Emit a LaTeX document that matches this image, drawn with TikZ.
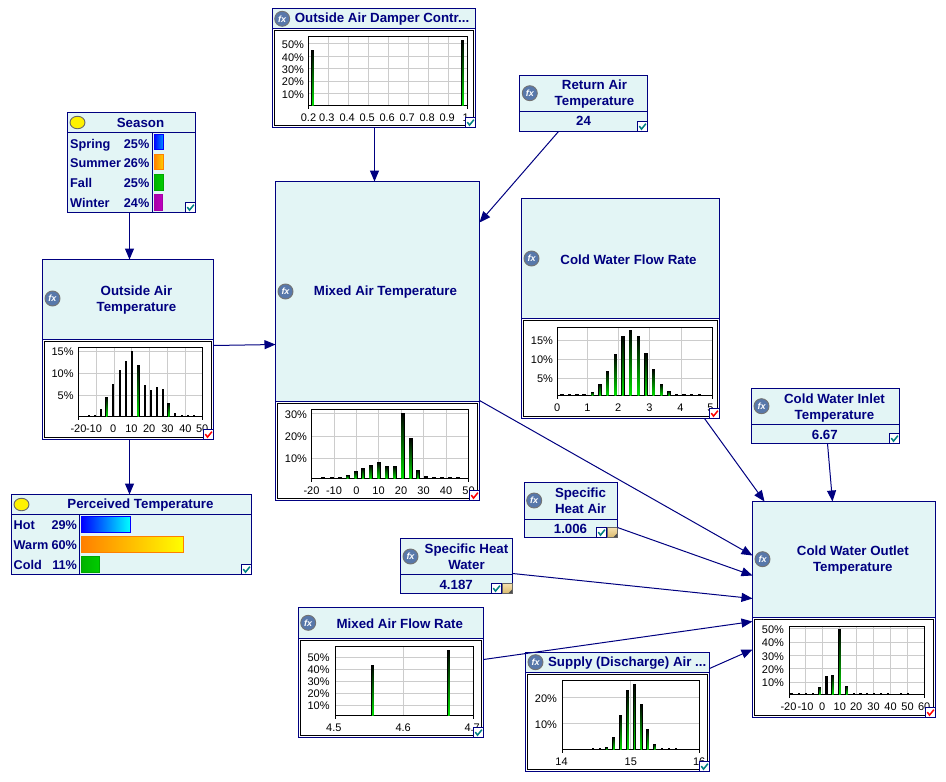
\documentclass[tikz,border=0pt]{standalone}
\usepackage{fontspec}
\setmainfont{Liberation Sans}
\usetikzlibrary{arrows.meta, calc, shapes.geometric}
\definecolor{bnnavy}{RGB}{0,0,128}
\definecolor{bnfill}{RGB}{227,245,245}
\definecolor{bngrid}{RGB}{204,204,204}
\definecolor{bnteal}{RGB}{0,128,128}
\definecolor{fxblue}{RGB}{88,120,170}
\definecolor{barhi}{RGB}{0,225,0}
\definecolor{notetan}{RGB}{240,205,120}
\tikzset{
    bnbox/.style = {draw = bnnavy, fill = bnfill, line width = 1pt, inner sep = 0pt, outer sep = 0pt},
    bnline/.style = {draw = bnnavy, line width = 1pt},
    bntitle/.style = {text = bnnavy, align = center, inner sep = 0pt, font = \fontsize{13.3}{16}\selectfont\bfseries},
    staterow/.style = {bntitle, text height = 9pt, text depth = 0pt, font = \fontsize{12.7}{16}\selectfont\bfseries},
    ticklab/.style = {text = black, inner sep = 0pt, font = \fontsize{11}{13}\selectfont},
    gridline/.style = {draw = bngrid, line width = 1pt},
    plotframe/.style = {draw = black, line width = 1pt},
    link/.style = {draw = bnnavy, line width = 1pt, -{Triangle[length = 11pt, width = 9pt]}},
    fxicon/.style = {circle, draw = black!55, fill = fxblue, line width = 0.9pt, minimum size = 15pt, inner sep = 0pt,
        text = white, font = \fontsize{9}{9}\selectfont\bfseries\itshape},
    chanceicon/.style = {ellipse, draw = black!60, fill = yellow, line width = 0.9pt, minimum width = 15pt, minimum height = 12.5pt, inner sep = 0pt},
    markbox/.style = {draw = bnnavy, fill = white, line width = 1pt, minimum size = 10pt, inner sep = 0pt},
    notebox/.style = {draw = black!60, top color = notetan!60, bottom color = notetan!90!black, line width = 0.6pt, minimum size = 10pt, inner sep = 0pt},
    barshade/.style = {top color = black, bottom color = barhi},
    bluebar/.style = {draw = blue, line width = 0.9pt, left color = blue},
    orangebar/.style = {draw = orange, line width = 0.9pt, left color = orange},
    greenbar/.style = {draw = green!65!black, line width = 0.9pt, left color = green!70!black, right color = green!80!black},
    purplebar/.style = {draw = violet!70!magenta, line width = 0.9pt, left color = violet!70!magenta, right color = violet!50!magenta}
}
\newcommand{\netbox}[6]{
    \node[bnbox, minimum width = {#4-#2}, minimum height = {#5-#3}] (#1) at ({(#2+#4)/2},{(#3+#5)/2}) {};
    \draw[bnline] (#2,#6) -- (#4,#6);
}
\newcommand{\chartpanel}[4]{
    \fill[white] (#1+0.5,#2) rectangle (#3-0.5,#4-0.5);
    \draw[bnline] (#1,#2) -- (#3,#2);
    \draw[plotframe] (#1+2,#2+2) rectangle (#3-2,#4-2);
}
\newcommand{\chartgrid}[6]{
    \foreach \y in {#6} \draw[gridline] (#1,\y) -- (#3,\y);
    \foreach \x in {#5} \draw[gridline] (\x,#2) -- (\x,#4);
    \draw[plotframe] (#1,#2) rectangle (#3,#4);
    \draw[plotframe] (#1,#4) -- (#1,#4+3.5);
    \draw[plotframe] (#3,#4) -- (#3,#4+3.5);
}
\newcommand{\histbars}[4]{
    \foreach \x/\yt in {#4} {
        \fill[black] (\x-#2,\yt) rectangle (\x+#2,#1);
        \shade[barshade] (\x-#3,\yt+0.5) rectangle (\x+#3,#1);
    }
}
\newcommand{\blackbars}[3]{
    \foreach \x/\yt in {#3} \fill[black] (\x-#2,\yt) rectangle (\x+#2,#1);
}
\newcommand{\xticks}[3]{
    \foreach \x/\lab [count=\n] in {#3} \node[ticklab] (#1x\n) at (\x,#2) {\lab};
}
\newcommand{\yticks}[3]{
    \foreach \y/\lab [count=\n] in {#3} \node[ticklab, anchor = east] (#1y\n) at (#2,\y) {\lab\%};
}
\newcommand{\okbox}[4]{
    \node[markbox] (#1) at (#2,#3) {};
    \draw[draw = #4, line width = 1.5pt] (#2-3.2,#3-0.4) -- (#2-1,#3+2.6) -- (#2+3.4,#3-2.8);
}
\newcommand{\memo}[3]{
    \node[notebox] (#1) at (#2,#3) {};
    \fill[black!70] (#2+1,#3+4.6) -- (#2+4.6,#3+1) -- (#2+4.6,#3+4.6) -- cycle;
}
\begin{document}
\begin{tikzpicture}[x = 1pt, y = -1pt]
        \useasboundingbox (-0.5,-0.5) rectangle (945.5,781.5);

        \netbox{season}{67}{112}{195}{212}{132}
        \draw[bnline] (152,132) -- (152,212);
        \node[chanceicon] (seasonicon) at (77,122) {};
        \node[bntitle] (seasontitle) at (140,122) {Season};
        \foreach \y/\lab/\val [count=\n] in {143/Spring/25, 162.5/Summer/26, 182.5/Fall/25, 202/Winter/24} {
            \node[staterow, anchor = west] (seasonlab\n) at (69.5,\y) {\lab};
            \node[staterow, anchor = east] (seasonval\n) at (149,\y) {\val\%};
        }
        \path[bluebar, right color = blue!45!cyan] (153.5,134.3) rectangle (162.5,149.3);
        \path[orangebar, right color = orange!40!yellow] (153.5,154.3) rectangle (162.5,169.3);
        \path[greenbar] (153.5,174.3) rectangle (162.5,189.5);
        \path[purplebar] (153.5,194.3) rectangle (161.7,209.5);
        \okbox{seasonok}{190}{207}{bnteal}

        \netbox{oat}{42}{259}{213}{439}{339}
        \chartpanel{42}{339}{213}{439}
        \node[fxicon] (oaticon) at (52,298) {fx};
        \node[bntitle] (oattitle) at (136,300) {Outside Air\\Temperature};
        \chartgrid{78}{347}{202}{416}{96,114,131,149,167,185}{351,373,395}
        \blackbars{416}{1}{88/414,94/414,100/408.3,112.7/383.3,119/369.3,125/360,131.3/350,144/384,150/389,156.3/386,162/388,174.7/412,181/414,187/414,193/414}
        \histbars{416}{1.5}{0.6}{106.3/396,137.7/364,168.3/402}
        \xticks{oat}{428}{78/-20,93.5/-10,112.7/0,131/10,148.7/20,167/30,185/40,201.7/50}
        \yticks{oat}{73.3}{351/15,373.3/10,395.3/5}
        \okbox{oatok}{208}{434}{red}

        \netbox{pt}{11}{494}{251}{574}{514}
        \draw[bnline] (79,514) -- (79,574);
        \node[chanceicon] (pticon) at (21,504) {};
        \node[bntitle] (pttitle) at (140,505) {Perceived Temperature};
        \foreach \y/\lab/\val [count=\n] in {524/Hot/29, 544/Warm/60, 564/Cold/11} {
            \node[staterow, anchor = west] (ptlab\n) at (13,\y) {\lab};
            \node[staterow, anchor = east] (ptval\n) at (76.7,\y) {\val\%};
        }
        \path[bluebar, right color = cyan] (81,516) rectangle (129.7,531.5);
        \path[orangebar, right color = yellow] (81,536) rectangle (182.7,551.5);
        \path[greenbar] (81,556.3) rectangle (98.7,571.5);
        \okbox{ptok}{246}{569}{bnteal}

        \netbox{damper}{272}{8}{475}{127}{28}
        \chartpanel{272}{28}{475}{127}
        \node[fxicon] (dampericon) at (281.7,18.3) {fx};
        \node[bntitle] (dampertitle) at (381.5,19) {Outside Air Damper Contr...};
        \chartgrid{308}{36}{467}{105}{328,348,368,388,408,428,448}{43,56,68,81,93}
        \histbars{105}{1.6}{0.7}{312.3/49,462.3/39}
        \xticks{damper}{117.3}{308/0.2,326.3/0.3,346.7/0.4,366.7/0.5,386.7/0.6,406.7/0.7,426.7/0.8,446.7/0.9,465.3/1}
        \yticks{damper}{303.7}{44/50,57/40,69.3/30,81.7/20,94.3/10}
        \okbox{damperok}{470}{122}{bnteal}

        \netbox{ret}{519}{75}{647}{131}{111}
        \node[fxicon] (reticon) at (529.3,92.7) {fx};
        \node[bntitle] (rettitle) at (594,94) {Return Air\\Temperature};
        \node[bntitle] (retval) at (583,120.7) {24};
        \okbox{retok}{642}{126}{bnteal}

        \netbox{mat}{275}{181}{479}{500}{401}
        \chartpanel{275}{401}{479}{500}
        \node[fxicon] (maticon) at (285,291) {fx};
        \node[bntitle] (mattitle) at (385,292) {Mixed Air Temperature};
        \chartgrid{311}{409}{468}{478}{334,356,378,401,423,446}{413,436,458}
        \blackbars{478}{2}{322.7/476,331/476,339/476,425/475.5,433/476,441/476,449/476,457/476}
        \histbars{478}{2}{1}{347/474,355/470.3,362.7/467.3,370/464.3,378/461.3,386/465.3,394/465.3,402/412,410/437.3,417.3/469.3}
        \xticks{mat}{490}{311/-20,333.5/-10,356/0,378/10,400.5/20,423/30,445.5/40,468/50}
        \yticks{mat}{306.7}{414/30,436/20,458.5/10}
        \okbox{matok}{474}{495}{red}

        \netbox{flow}{521}{198}{719}{418}{318}
        \chartpanel{521}{318}{719}{418}
        \node[fxicon] (flowicon) at (531,258) {fx};
        \node[bntitle] (flowtitle) at (628,259) {Cold Water Flow Rate};
        \chartgrid{557}{327}{712}{395}{587,618,649,681}{340,359,378}
        \blackbars{395}{1.8}{561.7/393,569/393,576.7/393,583.7/393,676/393,683.7/393,691/393,699/393}
        \histbars{395}{1.8}{0.9}{592/391,599.7/383,607/370,615/353.3,622.3/335,630/329,638/335,645.7/352.3,653/368.3,661/383,668.7/390}
        \xticks{flow}{407}{556.7/0,587/1,617.7/2,649/3,680/4,710/5}
        \yticks{flow}{552.7}{340/15,359/10,378/5}
        \okbox{flowok}{714}{413}{red}

        \netbox{inlet}{751}{388}{899}{443}{424}
        \node[fxicon] (inleticon) at (761,405.7) {fx};
        \node[bntitle] (inlettitle) at (834,407.5) {Cold Water Inlet\\Temperature};
        \node[bntitle] (inletval) at (824.3,434) {6.67};
        \okbox{inletok}{894}{438}{bnteal}

        \netbox{outlet}{752}{501}{935}{717}{617}
        \chartpanel{752}{617}{935}{717}
        \node[fxicon] (outleticon) at (762,558.7) {fx};
        \node[bntitle] (outlettitle) at (852.3,560) {Cold Water Outlet\\Temperature};
        \chartgrid{789}{626}{924}{694}{805,822,839,856,873,890,907}{628,642,655,668,682}
        \blackbars{694}{1.2}{791/692,798.3/692,805.7/692,812.3/692,826/675,853.3/692,860/692,866.3/692,873.3/692,880.3/692,887.3/692,900.3/692,907.3/692}
        \histbars{694}{1.5}{0.7}{819.3/686,832.3/674,839.3/628.3,846.3/685}
        \xticks{outlet}{706}{788/-20,805/-10,821.7/0,839.3/10,855.7/20,873/30,890/40,907/50,923.7/60}
        \yticks{outlet}{783.7}{629.3/50,642.3/40,656/30,669/20,682.3/10}
        \okbox{outletok}{930}{712}{red}

        \netbox{sha}{524}{482}{617}{537}{519}
        \node[fxicon] (shaicon) at (533.7,500) {fx};
        \node[bntitle] (shatitle) at (580,500) {Specific\\Heat Air};
        \node[bntitle] (shaval) at (570,528) {1.006};
        \okbox{shaok}{601}{532}{bnteal}
        \memo{shamemo}{612}{532}

        \netbox{shw}{400}{538}{512}{593}{574}
        \node[fxicon] (shwicon) at (410,556) {fx};
        \node[bntitle] (shwtitle) at (466,556.7) {Specific Heat\\Water};
        \node[bntitle] (shwval) at (455.7,584) {4.187};
        \okbox{shwok}{496}{588}{bnteal}
        \memo{shwmemo}{507}{588}

        \netbox{maf}{298}{607}{483}{737}{638}
        \chartpanel{298}{638}{483}{737}
        \node[fxicon] (maficon) at (307.7,622.3) {fx};
        \node[bntitle] (maftitle) at (399.3,623) {Mixed Air Flow Rate};
        \chartgrid{335}{646}{473}{715}{403}{657,669,681,693,705}
        \histbars{715}{1.6}{0.7}{372.3/664,448.3/649}
        \xticks{maf}{727}{333.3/4.5,402.7/4.6,471.7/4.7}
        \yticks{maf}{329.3}{657/50,669/40,681/30,693/20,705/10}
        \okbox{mafok}{478}{732}{bnteal}

        \netbox{supply}{525}{652}{709}{771}{672}
        \chartpanel{525}{672}{709}{771}
        \node[fxicon] (supplyicon) at (535,661.7) {fx};
        \node[bntitle] (supplytitle) at (626.7,663) {Supply (Discharge) Air ...};
        \chartgrid{562}{680}{699}{749}{630}{697,723}
        \blackbars{749}{1.2}{592.7/747,599.3/747,661.3/747,668.3/747,675.3/747}
        \histbars{749}{1.5}{0.7}{606.3/746.3,613.3/736,620.3/714,627.3/689,634/683,640.7/703,647.3/728,654.3/743}
        \xticks{supply}{761}{561/14,630.3/15,698.7/16}
        \yticks{supply}{556.7}{698/20,724/10}
        \okbox{supplyok}{704}{766}{bnteal}

        \draw[link] ([xshift=-2]season.south) -- ([xshift=1.5]oat.north);
        \draw[link] ([yshift=4]oat.east) -- ([yshift=-3.5]mat.west);
        \draw[link] ([xshift=1.5]oat.south) -- ([xshift=-2]pt.north);
        \draw[link] ([xshift=0.5]damper.south) -- ([xshift=-3]mat.north);
        \draw[link] ([xshift=-25]ret.south) -- ([yshift=118.5]mat.east);
        \draw[link] ([yshift=-59.5]mat.east) -- ([yshift=54]outlet.west);
        \draw[link] ([xshift=84]flow.south) -- ([xshift=-79.5]outlet.north);
        \draw[link] ([xshift=2]inlet.south) -- ([xshift=-11.5]outlet.north);
        \draw[link] ([yshift=-17.5]sha.east) -- ([yshift=34]outlet.west);
        \draw[link] ([yshift=-7.5]shw.east) -- ([yshift=11]outlet.west);
        \draw[link] ([yshift=13]maf.east) -- ([yshift=-12]outlet.west);
        \draw[link] ([yshift=43.5]supply.east) -- ([yshift=-40]outlet.west);
    \end{tikzpicture}
\end{document}
